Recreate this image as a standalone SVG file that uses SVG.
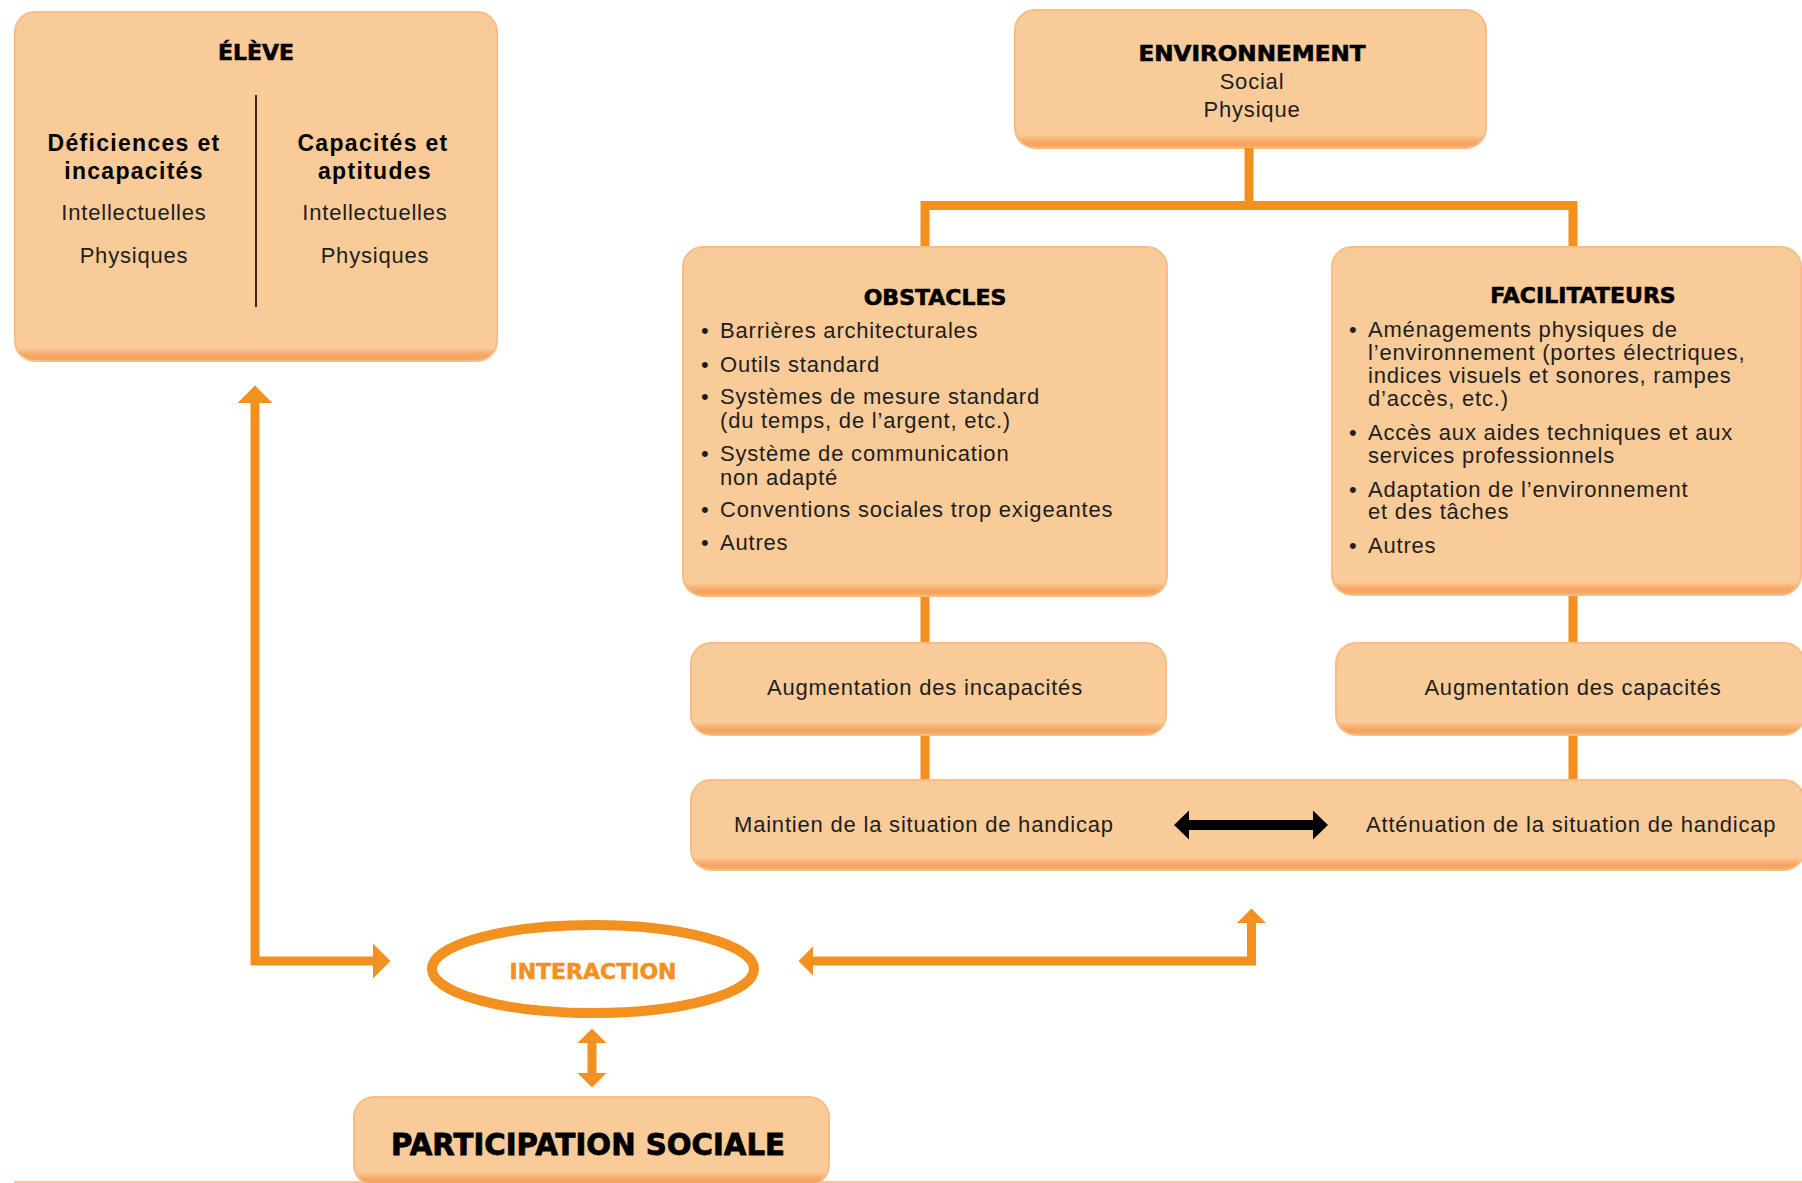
<svg xmlns="http://www.w3.org/2000/svg" width="1802" height="1183" viewBox="0 0 1802 1183">
<defs>
<linearGradient id="band" x1="0" y1="0" x2="0" y2="1">
<stop offset="0" stop-color="#F9C38E"/>
<stop offset="0.6" stop-color="#F5A35F"/>
<stop offset="1" stop-color="#F6AC6B"/>
</linearGradient>
<marker id="hL" viewBox="0 -18 18 36" refX="0" refY="0" markerWidth="18" markerHeight="36" markerUnits="userSpaceOnUse" orient="auto-start-reverse"><path d="M0,-17.5 L17.5,0 L0,17.5 Z" fill="#F39120"/></marker>
<marker id="hS" viewBox="0 -15 15 30" refX="0" refY="0" markerWidth="15" markerHeight="30" markerUnits="userSpaceOnUse" orient="auto-start-reverse"><path d="M0,-14.5 L14.5,0 L0,14.5 Z" fill="#F39120"/></marker>
<marker id="hB" viewBox="0 -15 15 30" refX="0" refY="0" markerWidth="15" markerHeight="30" markerUnits="userSpaceOnUse" orient="auto-start-reverse"><path d="M0,-14.5 L15,0 L0,14.5 Z" fill="#000000"/></marker>
</defs>
<style>
.bx{fill:#F9CB98}
.bd{fill:url(#band)}
.rim{fill:none;stroke:#F8BD86;stroke-width:2}
.ln{fill:none;stroke:#F39120;stroke-width:9;stroke-linejoin:miter}
.hd{font-family:"DejaVu Sans","Liberation Sans",sans-serif;font-weight:bold;font-size:22px;fill:#000;stroke:#000;stroke-width:0.6;text-anchor:middle}
.sb{font-family:"Liberation Sans",Arial,sans-serif;font-weight:bold;font-size:23px;letter-spacing:1.3px;fill:#000;text-anchor:middle}
.tx{font-family:"Liberation Sans",Arial,sans-serif;font-size:22px;letter-spacing:0.8px;fill:#1E1E1E}
.c{text-anchor:middle}
</style>
<rect width="1802" height="1183" fill="#FFFFFF"/>
<line x1="14" y1="1182" x2="1802" y2="1182" stroke="#F9C58A" stroke-width="2"/>

<g id="eleve">
<rect class="bx" x="15" y="12" width="482" height="349" rx="20"/>
<path class="bd" d="M16.67,349 H495.33 A20,20 0 0 1 477,361 H35 A20,20 0 0 1 16.67,349 Z"/>
<rect class="rim" x="15" y="12" width="482" height="349" rx="20"/>
<text class="hd" x="256" y="60">ÉLÈVE</text>
<line x1="256" y1="95" x2="256" y2="307" stroke="#000" stroke-width="1.6"/>
<text class="sb" x="134" y="151">Déficiences et</text>
<text class="sb" x="134" y="179">incapacités</text>
<text class="tx c" x="134" y="220">Intellectuelles</text>
<text class="tx c" x="134" y="263">Physiques</text>
<text class="sb" x="373" y="151">Capacités et</text>
<text class="sb" x="375" y="179">aptitudes</text>
<text class="tx c" x="375" y="220">Intellectuelles</text>
<text class="tx c" x="375" y="263">Physiques</text>
</g>

<g id="environnement">
<rect class="bx" x="1015" y="10" width="471" height="138" rx="20"/>
<path class="bd" d="M1016.67,136 H1484.33 A20,20 0 0 1 1466,148 H1035 A20,20 0 0 1 1016.67,136 Z"/>
<rect class="rim" x="1015" y="10" width="471" height="138" rx="20"/>
<text class="hd" x="1252" y="61" textLength="227" lengthAdjust="spacingAndGlyphs">ENVIRONNEMENT</text>
<text class="tx c" x="1252" y="89">Social</text>
<text class="tx c" x="1252" y="117">Physique</text>
</g>

<g id="obstacles">
<rect class="bx" x="683" y="247" width="484" height="349" rx="20"/>
<path class="bd" d="M684.67,584 H1165.33 A20,20 0 0 1 1147,596 H703 A20,20 0 0 1 684.67,584 Z"/>
<rect class="rim" x="683" y="247" width="484" height="349" rx="20"/>
<text class="hd" x="935" y="305">OBSTACLES</text>
<g class="tx">
<text x="701" y="338">•</text><text x="720" y="338">Barrières architecturales</text>
<text x="701" y="372">•</text><text x="720" y="372">Outils standard</text>
<text x="701" y="404">•</text><text x="720" y="404">Systèmes de mesure standard</text>
<text x="720" y="428">(du temps, de l’argent, etc.)</text>
<text x="701" y="461">•</text><text x="720" y="461">Système de communication</text>
<text x="720" y="485">non adapté</text>
<text x="701" y="517">•</text><text x="720" y="517">Conventions sociales trop exigeantes</text>
<text x="701" y="550">•</text><text x="720" y="550">Autres</text>
</g>
</g>

<g id="facilitateurs">
<rect class="bx" x="1332" y="247" width="469" height="348" rx="20"/>
<path class="bd" d="M1333.67,583 H1799.33 A20,20 0 0 1 1781,595 H1352 A20,20 0 0 1 1333.67,583 Z"/>
<rect class="rim" x="1332" y="247" width="469" height="348" rx="20"/>
<text class="hd" x="1583" y="303">FACILITATEURS</text>
<g class="tx">
<text x="1349" y="337">•</text><text x="1368" y="337">Aménagements physiques de</text>
<text x="1368" y="360">l’environnement (portes électriques,</text>
<text x="1368" y="383">indices visuels et sonores, rampes</text>
<text x="1368" y="406">d’accès, etc.)</text>
<text x="1349" y="440">•</text><text x="1368" y="440">Accès aux aides techniques et aux</text>
<text x="1368" y="463">services professionnels</text>
<text x="1349" y="497">•</text><text x="1368" y="497">Adaptation de l’environnement</text>
<text x="1368" y="519">et des tâches</text>
<text x="1349" y="553">•</text><text x="1368" y="553">Autres</text>
</g>
</g>

<g id="augmentation-incapacites">
<rect class="bx" x="691" y="643" width="475" height="92" rx="20"/>
<path class="bd" d="M692.67,723 H1164.33 A20,20 0 0 1 1146,735 H711 A20,20 0 0 1 692.67,723 Z"/>
<rect class="rim" x="691" y="643" width="475" height="92" rx="20"/>
<text class="tx c" x="925" y="695">Augmentation des incapacités</text>
</g>

<g id="augmentation-capacites">
<rect class="bx" x="1336" y="643" width="468" height="92" rx="20"/>
<path class="bd" d="M1337.67,723 H1802.33 A20,20 0 0 1 1784,735 H1356 A20,20 0 0 1 1337.67,723 Z"/>
<rect class="rim" x="1336" y="643" width="468" height="92" rx="20"/>
<text class="tx c" x="1573" y="695">Augmentation des capacités</text>
</g>

<g id="situation-handicap">
<rect class="bx" x="691" y="780" width="1113" height="90" rx="20"/>
<path class="bd" d="M692.67,858 H1802.33 A20,20 0 0 1 1784,870 H711 A20,20 0 0 1 692.67,858 Z"/>
<rect class="rim" x="691" y="780" width="1113" height="90" rx="20"/>
<text class="tx" x="734" y="832">Maintien de la situation de handicap</text>
<text class="tx" x="1366" y="832">Atténuation de la situation de handicap</text>
</g>

<g id="interaction">
<ellipse cx="593" cy="969" rx="161" ry="44" fill="#FFFFFF" stroke="#F39120" stroke-width="10"/>
<text class="hd" x="593" y="979" style="fill:#F39120;stroke:#F39120" textLength="167" lengthAdjust="spacingAndGlyphs">INTERACTION</text>
</g>

<g id="participation-sociale">
<rect class="bx" x="354" y="1097" width="475" height="88" rx="20"/>
<path class="bd" d="M355.67,1173 H827.33 A20,20 0 0 1 809,1185 H374 A20,20 0 0 1 355.67,1173 Z"/>
<rect class="rim" x="354" y="1097" width="475" height="88" rx="20"/>
<text class="hd" x="588" y="1155" style="font-size:30px;stroke-width:0.8" textLength="394" lengthAdjust="spacingAndGlyphs">PARTICIPATION SOCIALE</text>
</g>

<g id="connectors">
<path class="ln" d="M925,246 V205.5 H1573 V246 M1249,148 V205.5"/>
<path class="ln" d="M925,597 V642 M925,736 V779 M1573,596 V642 M1573,736 V779"/>
<path class="ln" d="M255,403 V961 H373" marker-start="url(#hL)" marker-end="url(#hL)"/>
<path class="ln" d="M813,961 H1251.5 V923" marker-start="url(#hS)" marker-end="url(#hS)"/>
<path class="ln" stroke-width="8" d="M592,1043 V1073" marker-start="url(#hS)" marker-end="url(#hS)"/>
<path fill="none" stroke="#000" stroke-width="10" d="M1189,825 H1313" marker-start="url(#hB)" marker-end="url(#hB)"/>
</g>
</svg>
